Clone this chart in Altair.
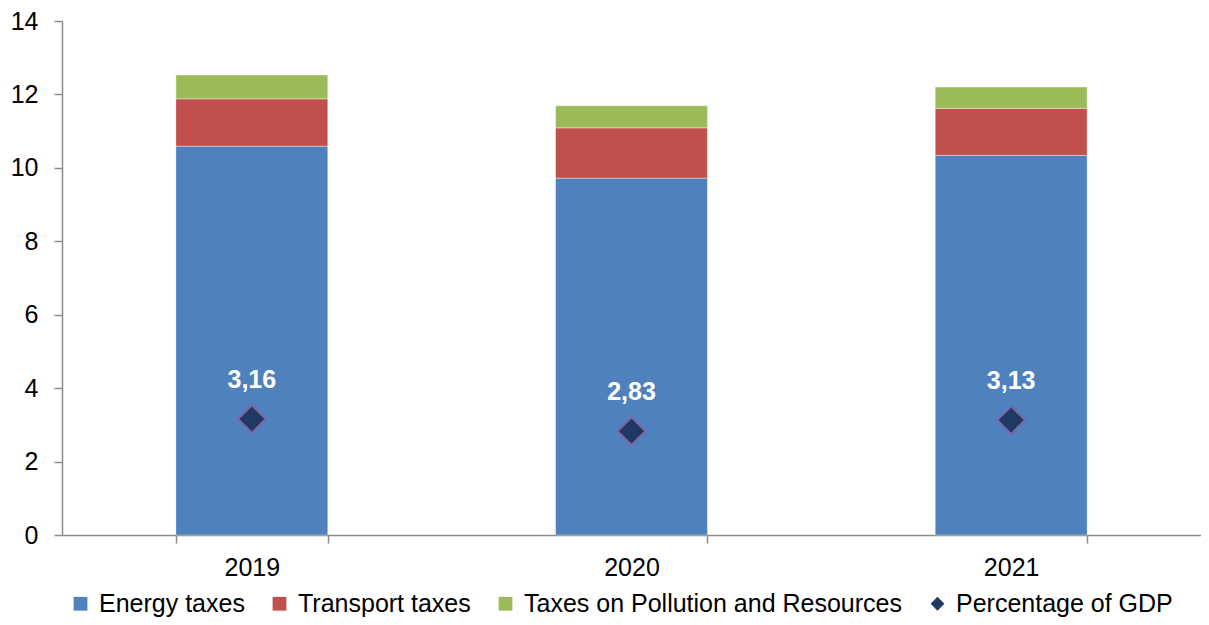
import altair as alt
import pandas as pd

years = ["2019", "2020", "2021"]
energy = [10.59, 9.72, 10.34]
transport = [1.29, 1.37, 1.28]
pollution = [0.65, 0.60, 0.58]
gdp_pct = [3.16, 2.83, 3.13]

series_names = ["Energy taxes", "Transport taxes", "Taxes on Pollution and Resources", "Percentage of GDP"]
series_colors = ["#4F81BD", "#C0504D", "#9BBB59", "#1F3864"]
series_shapes = ["square", "square", "square", "diamond"]

rows = []
for i, y in enumerate(years):
    for k, (name, vals) in enumerate(zip(series_names[:3], [energy, transport, pollution])):
        rows.append({"year": y, "series": name, "value": vals[i], "order": k})
bars_df = pd.DataFrame(rows)

gdp_df = pd.DataFrame({
    "year": years,
    "series": ["Percentage of GDP"] * 3,
    "value": gdp_pct,
    "label": [f"{v:.2f}".replace(".", ",") for v in gdp_pct],
})

FONT = "Liberation Sans"

x_enc = alt.X(
    "year:N",
    title=None,
    scale=alt.Scale(paddingInner=0.6, paddingOuter=0.3),
    axis=alt.Axis(
        labelAngle=0, tickBand="extent", tickSize=8, labelPadding=12,
        labelFontSize=25, labelFont=FONT, labelColor="#000000",
        domainColor="#8C8C8C", tickColor="#8C8C8C", domainWidth=1.5, tickWidth=1.5,
    ),
)
y_scale = alt.Scale(domain=[0, 14], nice=False)
y_axis = alt.Axis(
    values=[0, 2, 4, 6, 8, 10, 12, 14], grid=False, tickSize=8, labelPadding=16,
    labelFontSize=25, labelFont=FONT, labelColor="#000000",
    domainColor="#8C8C8C", tickColor="#8C8C8C", domainWidth=1.5, tickWidth=1.5,
)

color_scale = alt.Scale(domain=series_names, range=series_colors)
shape_scale = alt.Scale(domain=series_names, range=series_shapes)

legend = alt.Legend(
    title=None, orient="none", legendX=6, legendY=570, direction="horizontal",
    columns=4, labelFontSize=25, labelFont=FONT, labelColor="#000000",
    symbolSize=190, columnPadding=22, labelOffset=6, padding=0,
    symbolStrokeWidth=0, labelLimit=600,
)

bars = alt.Chart(bars_df).mark_bar(stroke="#FFFFFF", strokeWidth=0.6, strokeOpacity=0.6).encode(
    x=x_enc,
    y=alt.Y("value:Q", title=None, stack="zero", scale=y_scale, axis=y_axis),
    color=alt.Color("series:N", scale=color_scale, legend=legend),
    order=alt.Order("order:Q", sort="ascending"),
)

points = alt.Chart(gdp_df).mark_point(
    filled=True, size=760, stroke="#8064A2", strokeWidth=2, opacity=1
).encode(
    x=alt.X("year:N"),
    y=alt.Y("value:Q"),
    color=alt.Color("series:N", scale=color_scale, legend=legend),
    shape=alt.Shape("series:N", scale=shape_scale, legend=legend),
)

labels = alt.Chart(gdp_df).mark_text(
    fontSize=25, fontWeight="bold", font=FONT, color="#FFFFFF", dy=-39, baseline="middle"
).encode(
    x=alt.X("year:N"),
    y=alt.Y("value:Q"),
    text="label:N",
)

chart = alt.layer(bars, points, labels).properties(
    width=1139, height=514,
    autosize=alt.AutoSizeParams(type="none"),
    padding={"left": 54, "top": 13, "right": 0, "bottom": 82},
).configure(background="#FFFFFF").configure_view(stroke="transparent", strokeWidth=0)

chart.save("out.html", embed_options={"renderer": "svg", "actions": False})
